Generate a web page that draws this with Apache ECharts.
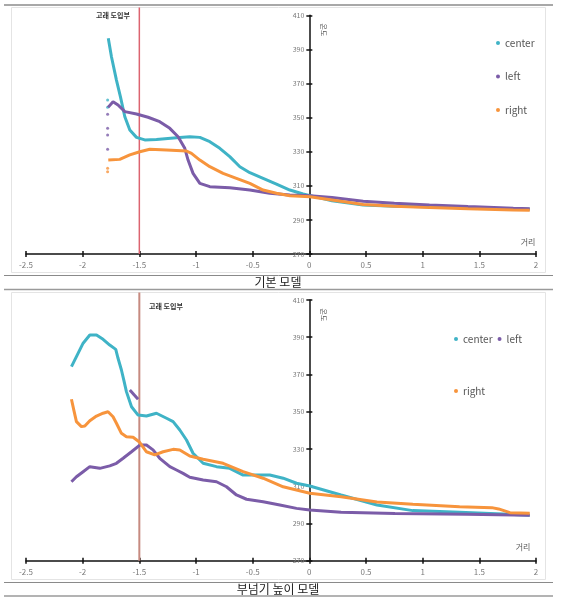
<!DOCTYPE html>
<html><head><meta charset="utf-8">
<script src="https://cdn.jsdelivr.net/npm/echarts@6/dist/echarts.min.js"></script>
<style>html,body{margin:0;padding:0;background:#fff}#c{width:563px;height:604px}</style>
</head><body><div id="c"></div>
<script>
// ---------- data ----------
const xTicks = [-2.5, 2, 0.5];           // min, max, interval
const yTicks = [270, 410, 20];
const seriesNames = ['center', 'left', 'right'];
const panelTitles = ['기본 모델', '부넘기 높이 모델'];
const annotation = '고래 도입부';
const xName = '거리';
const yName = '온도';
const markX = -1.5;

// top panel (기본 모델)
const topCenterX = [-1.774,-1.746,-1.702,-1.667,-1.628,-1.584,-1.525,-1.452,-1.349,-1.172,-1.055,-0.966,-0.878,-0.79,-0.702,-0.613,-0.525,-0.408,-0.29,-0.172,-0.055,0.0,0.2,0.475,0.75,1.06,1.4,1.8,1.945];
const topCenterY = [396.5,385.7,372,362.3,350.5,342.7,338.4,336.9,337.2,338.2,338.8,338.4,335.9,332,327.1,321.2,317.7,314.4,311,307.5,305.2,304.4,301.2,298.7,298,297.7,297,296.5,296.3];
const topLeftX = [-1.776,-1.732,-1.688,-1.628,-1.525,-1.423,-1.32,-1.231,-1.158,-1.099,-1.07,-1.026,-0.966,-0.878,-0.702,-0.525,-0.349,-0.172,0.005,0.2,0.475,0.75,1.06,1.4,1.8,1.945];
const topLeftY = [356,359.3,357.4,353.5,352.1,350.2,347.6,343.7,338.8,332,325.1,317.3,311.4,309.5,308.9,307.5,305.6,304.6,304.2,303.2,300.9,299.8,298.8,297.8,296.8,296.5];
const topRightX = [-1.774,-1.673,-1.584,-1.496,-1.408,-1.26,-1.084,-1.04,-0.966,-0.878,-0.761,-0.643,-0.525,-0.408,-0.29,-0.172,0.005,0.2,0.475,0.75,1.06,1.4,1.8,1.945];
const topRightY = [325.1,325.5,328.1,330,331.4,331,330.4,329,325.1,321.2,317.3,314.4,311.4,307.5,305.6,304.2,303.6,301.7,299,298,297.2,296.5,295.8,295.6];
// stray points at the start of the top panel
const topCenterDotsX = [-1.78,-1.78];
const topCenterDotsY = [360.3,356];
const topLeftDotsX = [-1.78,-1.78,-1.78,-1.78];
const topLeftDotsY = [352,343.7,339.8,331.4];
const topRightDotsX = [-1.78,-1.78];
const topRightDotsY = [320.3,318.3];

// bottom panel (부넘기 높이 모델)
const botCenterX = [-2.099,-2.055,-1.996,-1.937,-1.878,-1.82,-1.761,-1.708,-1.688,-1.658,-1.637,-1.614,-1.569,-1.511,-1.437,-1.349,-1.26,-1.202,-1.143,-1.084,-1.026,-0.937,-0.819,-0.702,-0.584,-0.466,-0.349,-0.231,-0.113,0.004,0.28,0.597,0.913,1.326,1.707,1.945];
const botCenterY = [374.2,379.6,386.8,391.2,391.2,388.9,385.8,383.5,378.7,372.4,367,360.8,352.7,348.2,347.7,349.2,346.5,344.7,340.2,334.8,327.7,322.3,320.5,319.6,316,316,316,314.3,311.6,310.1,305.3,299.9,296.9,296,295.1,294.4];
const botLeftX = [-2.099,-2.055,-1.996,-1.937,-1.849,-1.761,-1.702,-1.643,-1.569,-1.496,-1.437,-1.379,-1.32,-1.231,-1.172,-1.114,-1.055,-0.937,-0.819,-0.731,-0.643,-0.554,-0.408,-0.26,-0.113,0.004,0.28,0.755,1.39,1.945];
const botLeftY = [312.4,315.1,317.8,320.5,319.6,320.9,322.3,325,328.5,332.1,332.1,329.5,325,320.5,318.7,316.9,314.8,313.3,312.4,309.7,305.3,303,301.7,299.9,298.1,297.2,296,295.4,294.9,294.4];
const botLeftPieceX = [-1.584,-1.511];
const botLeftPieceY = [361.7,356.7];
const botRightX = [-2.099,-2.078,-2.055,-2.011,-1.981,-1.937,-1.878,-1.82,-1.776,-1.732,-1.702,-1.658,-1.614,-1.555,-1.502,-1.437,-1.364,-1.29,-1.202,-1.143,-1.055,-0.937,-0.761,-0.584,-0.408,-0.231,0.004,0.28,0.597,0.913,1.326,1.61,1.67,1.77,1.945];
const botRightY = [356.7,350.9,344.7,342,342.3,345.2,347.7,349.2,350,347.3,343.8,338.4,336.6,336.3,333.9,328.5,326.8,328.5,329.8,329.5,326.2,324.5,322.3,317.8,314.3,309.7,306.2,304.4,301.5,300.3,299,298.5,297.8,295.8,295.5];

// ---------- build ----------
const zip = (xs, ys) => xs.map((x, i) => [x, ys[i]]);
const colors = {center: '#3fb3c6', left: '#7b5ca8', right: '#f7943c'};
const FONT = '"Noto Sans CJK KR", "Noto Sans", sans-serif';
const GRID_LEFT = 26;

function xAx(grid, inside) {
  return {
    gridIndex: grid, type: 'value', min: xTicks[0], max: xTicks[1], interval: xTicks[2],
    position: 'bottom',
    axisLine: {show: !inside, onZero: false, lineStyle: {color: '#111', width: 1.5}},
    axisTick: {show: true, inside: inside, length: 3, lineStyle: {color: '#111', width: 1.5}},
    axisLabel: {show: !inside, color: '#7a7a7a', fontSize: 8, margin: 7, fontFamily: FONT},
    splitLine: {show: false}
  };
}
function yAx(grid, inside, offset) {
  return {
    gridIndex: grid, type: 'value', min: yTicks[0], max: yTicks[1], interval: yTicks[2],
    position: 'left', offset: offset,
    axisLine: {show: !inside, onZero: false, lineStyle: {color: '#111', width: 1.5}},
    axisTick: {show: true, inside: inside, length: 3, lineStyle: {color: '#111', width: 1.5}},
    axisLabel: {show: !inside, color: '#7a7a7a', fontSize: 7, margin: 5, fontFamily: FONT},
    splitLine: {show: false}
  };
}
function lineS(name, xs, ys, ax) {
  return {name, type: 'line', xAxisIndex: ax, yAxisIndex: ax, data: zip(xs, ys),
    showSymbol: false, symbol: 'none', smooth: false,
    lineStyle: {color: colors[name], width: 3}, itemStyle: {color: colors[name]}};
}
function dotS(name, xs, ys, ax) {
  return {name, type: 'scatter', xAxisIndex: ax, yAxisIndex: ax, data: zip(xs, ys),
    symbolSize: 3, itemStyle: {color: colors[name]}};
}
const legendBase = {icon: 'circle', itemWidth: 4, itemHeight: 4,
  textStyle: {fontSize: 10, color: '#555', fontFamily: FONT}, selectedMode: false};

const hLine = (y, w, c) => ({type: 'line', shape: {x1: 4, y1: y, x2: 553, y2: y}, style: {stroke: c, lineWidth: w}, silent: true});
const txt = (x, y, t, fs, extra) => Object.assign({type: 'text', x, y, silent: true,
  style: Object.assign({text: t, fontSize: fs, fill: '#333', fontFamily: FONT, align: 'center', verticalAlign: 'middle'}, extra || {})});

const baseGraphics = [
  hLine(5, 2, '#a8a8a8'),
  {type: 'rect', shape: {x: 11.5, y: 7.5, width: 534, height: 265}, style: {fill: 'none', stroke: '#e4e4e4', lineWidth: 1}, silent: true, z: -10},
  hLine(275.5, 1, '#8a8a8a'),
  hLine(289.5, 1.5, '#9a9a9a'),
  {type: 'rect', shape: {x: 11.5, y: 292.5, width: 534, height: 287}, style: {fill: 'none', stroke: '#e4e4e4', lineWidth: 1}, silent: true, z: -10},
  hLine(582.5, 1, '#8a8a8a'),
  hLine(596, 1.5, '#9a9a9a'),
  txt(278, 282.5, panelTitles[0], 12, {fill: '#222'}),
  txt(278, 589, panelTitles[1], 12, {fill: '#222'}),
  txt(113, 15, annotation, 7, {fontWeight: 'bold', fill: '#333'}),
  txt(166, 306, annotation, 7, {fontWeight: 'bold', fill: '#333'}),
  txt(528, 241.5, xName, 8, {fill: '#555'}),
  txt(523, 546.5, xName, 8, {fill: '#555'}),
  Object.assign(txt(323.5, 30, yName, 7, {fill: '#555'}), {rotation: -Math.PI / 2}),
  Object.assign(txt(323.5, 315, yName, 7, {fill: '#555'}), {rotation: -Math.PI / 2})
];

const option = {
  animation: false,
  backgroundColor: '#fff',
  textStyle: {fontFamily: FONT},
  grid: [
    {left: GRID_LEFT, right: 27, top: 15.3, height: 238.7},
    {left: GRID_LEFT, right: 27, top: 300, height: 260.7}
  ],
  xAxis: [xAx(0, false), xAx(0, true), xAx(1, false), xAx(1, true)],
  yAxis: [yAx(0, false, 0), yAx(0, true, 0), yAx(1, false, 0), yAx(1, true, 0)],
  legend: [
    Object.assign({}, legendBase, {orient: 'vertical', left: 491, top: 33, itemGap: 23.5, data: seriesNames}),
    Object.assign({}, legendBase, {orient: 'horizontal', left: 449, top: 329, itemGap: 5, data: ['center', 'left']}),
    Object.assign({}, legendBase, {orient: 'horizontal', left: 449, top: 381, data: ['right']})
  ],
  series: [
    lineS('center', topCenterX, topCenterY, 0),
    lineS('left', topLeftX, topLeftY, 0),
    lineS('right', topRightX, topRightY, 0),
    dotS('center', topCenterDotsX, topCenterDotsY, 0),
    dotS('left', topLeftDotsX, topLeftDotsY, 0),
    dotS('right', topRightDotsX, topRightDotsY, 0),
    lineS('center', botCenterX, botCenterY, 2),
    lineS('left', botLeftX, botLeftY, 2),
    lineS('left', botLeftPieceX, botLeftPieceY, 2),
    lineS('right', botRightX, botRightY, 2)
  ],
  graphic: baseGraphics
};

const chart = echarts.init(document.getElementById('c'), null, {renderer: 'canvas'});
chart.setOption(option);

// move the y axes to x = 0 of the x axes, using the library's own scale
const zero1 = chart.convertToPixel({xAxisIndex: 0}, 0);
const zero2 = chart.convertToPixel({xAxisIndex: 2}, 0);
const off1 = -(zero1 - GRID_LEFT), off2 = -(zero2 - GRID_LEFT);
chart.setOption({yAxis: [yAx(0, false, off1), yAx(0, true, off1), yAx(1, false, off2), yAx(1, true, off2)]});

// reference line at x = markX, placed through the axes' own scales
const p1 = chart.convertToPixel({xAxisIndex: 0, yAxisIndex: 0}, [markX, yTicks[0]]);
const p2 = chart.convertToPixel({xAxisIndex: 2, yAxisIndex: 2}, [markX, yTicks[0]]);
chart.setOption({graphic: baseGraphics.concat([
  {type: 'line', shape: {x1: p1[0], y1: 7.5, x2: p1[0], y2: p1[1]}, style: {stroke: '#dc6470', lineWidth: 1.5}, silent: true, z: 1},
  {type: 'line', shape: {x1: p2[0], y1: 292.5, x2: p2[0], y2: p2[1]}, style: {stroke: '#c68a80', lineWidth: 2}, silent: true, z: 1}
])});
</script>
</body></html>
